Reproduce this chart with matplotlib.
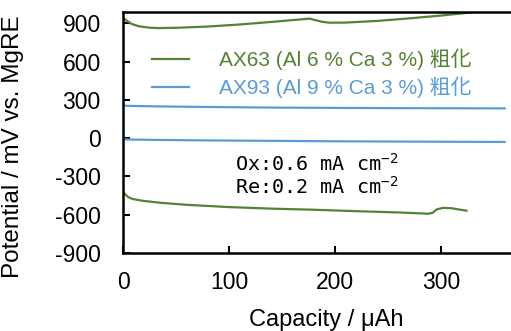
import matplotlib
matplotlib.use("Agg")
import matplotlib.pyplot as plt
from matplotlib.lines import Line2D

plt.rcParams['font.family'] = ['Liberation Sans', 'Noto Sans CJK JP', 'DejaVu Sans']
plt.rcParams['axes.unicode_minus'] = False
plt.rcParams['mathtext.fontset'] = 'custom'
plt.rcParams['mathtext.rm'] = 'DejaVu Sans Mono'

# ---- data ----
ax63_ox_cap = [0, 3, 8, 15, 25, 33, 50, 80, 110, 140, 165, 176, 182, 188, 195, 210, 240, 270, 300, 330, 366]
ax63_ox_pot = [945, 925, 897, 878, 867, 864, 866, 876, 892, 912, 930, 938, 925, 913, 906, 907, 920, 940, 962, 988, 1005]

ax63_re_cap = [0, 2, 5, 9, 18, 35, 60, 100, 140, 181, 220, 260, 288, 292, 296, 302, 310, 318, 324]
ax63_re_pot = [-415, -440, -462, -476, -490, -506, -522, -540, -552, -561, -572, -582, -592, -585, -558, -546, -549, -560, -568]

ax93_ox_cap = [0, 5, 30, 80, 150, 200, 260, 320, 360]
ax93_ox_pot = [256, 254, 250, 245, 240, 238, 236, 235, 234]

ax93_re_cap = [0, 5, 30, 80, 150, 200, 260, 320, 360]
ax93_re_pot = [-8, -10, -13, -17, -21, -24, -26, -28, -29]

green = '#548235'
blue = '#5B9BD5'

fig = plt.figure(figsize=(5.11, 3.31), dpi=100)
ax = fig.add_axes([123 / 511, 78 / 331, 1 - 123 / 511, (253 - 12) / 331])

ax.plot(ax63_ox_cap, ax63_ox_pot, color=green, lw=1.6)
ax.plot(ax63_re_cap, ax63_re_pot, color=green, lw=1.6)
ax.plot(ax93_ox_cap, ax93_ox_pot, color=blue, lw=1.6)
ax.plot(ax93_re_cap, ax93_re_pot, color=blue, lw=1.6)

ax.set_xlim(0, 366)
ax.set_ylim(-900, 990)
ax.set_xticks([0, 100, 200, 300])
ax.set_yticks([-900, -600, -300, 0, 300, 600, 900])
ax.tick_params(direction='in', length=5, width=1.5, labelsize=16.5)
ax.tick_params(axis='y', pad=16)
ax.tick_params(axis='x', pad=13)
for s in ['left', 'bottom', 'top']:
    ax.spines[s].set_linewidth(1.8)
ax.spines['right'].set_visible(False)

ax.set_xlabel('Capacity / μAh', fontsize=17)
ax.xaxis.set_label_coords(0.523, -0.232)
ax.set_ylabel('Potential / mV vs. MgRE', fontsize=17.5)
ax.yaxis.set_label_coords(-0.255, 0.442)

handles = [Line2D([], [], color=green, lw=1.6), Line2D([], [], color=blue, lw=1.6)]
labels = ['AX63 (Al 6 % Ca 3 %) 粗化', 'AX93 (Al 9 % Ca 3 %) 粗化']
ax.legend(handles, labels, loc='upper left', bbox_to_anchor=(0.075, 0.847),
          frameon=False, fontsize=15, labelcolor=[green, blue],
          handlelength=1.75, handletextpad=1.45, labelspacing=0.28,
          borderaxespad=0, borderpad=0)

ax.text(0.5, 0.322, 'Ox:0.6 mA cm$^{-2}$\nRe:0.2 mA cm$^{-2}$', transform=ax.transAxes,
        ha='center', va='center', fontsize=14.5, family=['DejaVu Sans Mono'],
        linespacing=1.1)

fig.savefig('out.png', dpi=100)
